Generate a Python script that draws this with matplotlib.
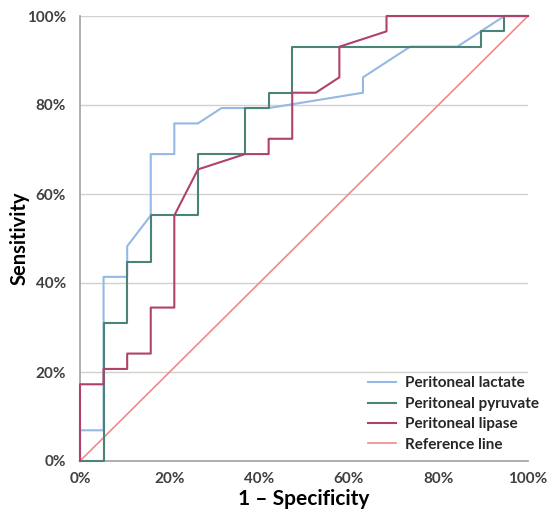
import matplotlib
matplotlib.use("Agg")
import matplotlib.pyplot as plt
from matplotlib.ticker import FuncFormatter

plt.rcParams['font.family'] = ['Lato', 'DejaVu Sans']

# Data (percent)
lactate_x = [0, 0, 5.26, 5.26, 10.53, 10.53, 15.79, 15.79, 21.05, 21.05, 26.32, 31.58, 42.11, 63.16, 63.16, 73.68, 84.21, 94.74, 100]
lactate_y = [0, 6.9, 6.9, 41.38, 41.38, 48.28, 55.17, 68.97, 68.97, 75.86, 75.86, 79.31, 79.31, 82.76, 86.21, 93.10, 93.10, 100, 100]

pyruvate_x = [0, 5.26, 5.26, 10.53, 10.53, 15.79, 15.79, 26.32, 26.32, 36.84, 36.84, 42.11, 42.11, 47.37, 47.37, 89.47, 89.47, 94.74, 94.74, 100]
pyruvate_y = [0, 0, 31.03, 31.03, 44.83, 44.83, 55.17, 55.17, 68.97, 68.97, 79.31, 79.31, 82.76, 82.76, 93.10, 93.10, 96.55, 96.55, 100, 100]

lipase_x = [0, 0, 5.26, 5.26, 10.53, 10.53, 15.79, 15.79, 21.05, 21.05, 26.32, 36.84, 42.11, 42.11, 47.37, 47.37, 52.63, 57.89, 57.89, 68.42, 68.42, 100]
lipase_y = [0, 17.24, 17.24, 20.69, 20.69, 24.14, 24.14, 34.48, 34.48, 55.17, 65.52, 68.97, 68.97, 72.41, 72.41, 82.76, 82.76, 86.21, 93.10, 96.55, 100, 100]

ref_x = [0, 100]
ref_y = [0, 100]

series_names = ["Peritoneal lactate", "Peritoneal pyruvate", "Peritoneal lipase", "Reference line"]
colors = ["#95b9e4", "#4b8379", "#b0416d", "#f08a8a"]

fig = plt.figure(figsize=(5.57, 5.17), dpi=100)
ax = fig.add_axes([80/557, 56/517, 448/557, 445/517])

ax.plot(lactate_x, lactate_y, color=colors[0], lw=1.5, label=series_names[0], clip_on=False, zorder=3)
ax.plot(pyruvate_x, pyruvate_y, color=colors[1], lw=1.5, label=series_names[1], clip_on=False, zorder=3)
ax.plot(lipase_x, lipase_y, color=colors[2], lw=1.5, label=series_names[2], clip_on=False, zorder=3)
ax.plot(ref_x, ref_y, color=colors[3], lw=1.2, label=series_names[3], clip_on=False, zorder=2)

ax.set_xlim(0, 100)
ax.set_ylim(0, 100)
ticks = [0, 20, 40, 60, 80, 100]
ax.set_xticks(ticks)
ax.set_yticks(ticks)
fmt = FuncFormatter(lambda v, p: f"{int(v)}%")
ax.xaxis.set_major_formatter(fmt)
ax.yaxis.set_major_formatter(fmt)
ax.tick_params(length=0, labelsize=11, colors="#404040")
ax.tick_params(axis="x", pad=8)
ax.tick_params(axis="y", pad=10)
for lab in ax.get_xticklabels() + ax.get_yticklabels():
    lab.set_fontweight("bold")

ax.grid(axis="y", color="#d4d0cc", lw=1)
ax.set_axisbelow(True)
for s in ["top", "right"]:
    ax.spines[s].set_visible(False)
ax.spines["left"].set_color("#a8a8a8")
ax.spines["bottom"].set_color("#a8a8a8")
ax.spines["left"].set_linewidth(1.3)
ax.spines["bottom"].set_linewidth(1.3)
ax.spines["left"].set_zorder(1)
ax.spines["bottom"].set_zorder(1)

ax.set_xlabel("1 \u2013 Specificity", fontsize=15, fontweight="bold")
ax.set_ylabel("Sensitivity", fontsize=14.5, fontweight="bold")
ax.xaxis.set_label_coords(0.5, -0.085, transform=ax.transAxes)
ax.yaxis.set_label_coords(-0.134, 0.5, transform=ax.transAxes)
ax.xaxis.label.set_verticalalignment("center")
ax.yaxis.label.set_verticalalignment("center")

leg = ax.legend(loc="upper left", bbox_to_anchor=(0.643, 0.19), frameon=False,
                fontsize=11, handlelength=1.85, labelspacing=0.42, handletextpad=0.6,
                borderpad=0, borderaxespad=0)
for t in leg.get_texts():
    t.set_fontweight("bold")
    t.set_color("#262626")

fig.savefig("out.png", dpi=100)
